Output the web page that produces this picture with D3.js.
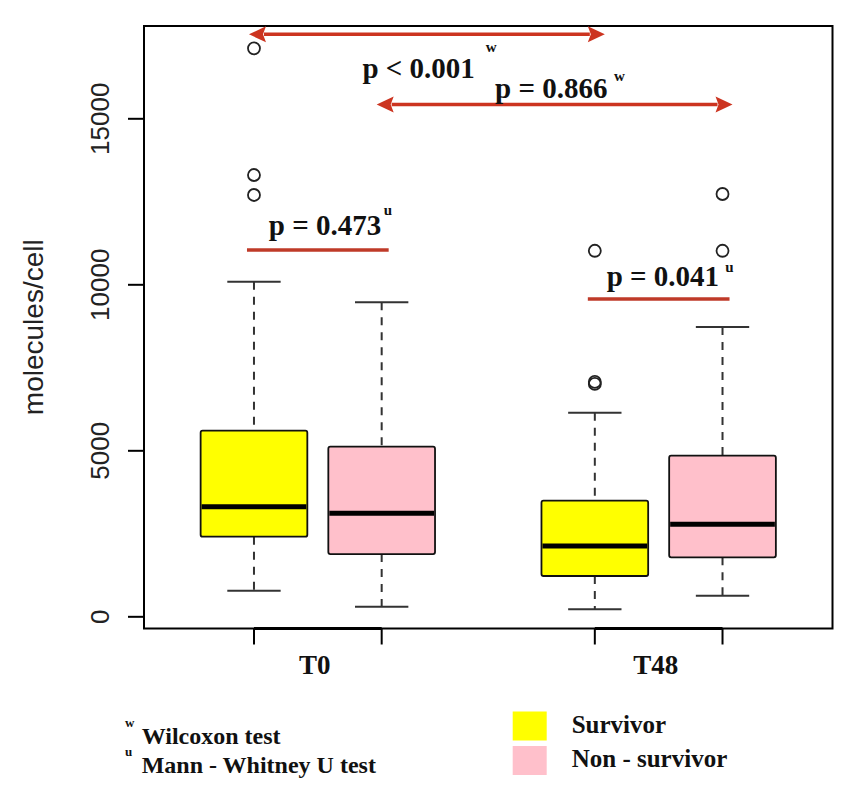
<!DOCTYPE html>
<html>
<head>
<meta charset="utf-8">
<script src="https://cdn.jsdelivr.net/npm/d3@7"></script>
<style>
  html, body { margin: 0; padding: 0; background: #fff; }
  svg { display: block; }
</style>
</head>
<body>
<svg id="chart" width="851" height="791"></svg>
<script>
// ---------------- DATA ----------------
const groups = ["T0", "T48"];
const series = ["Survivor", "Non - survivor"];
const seriesColors = ["#ffff00", "#ffc0cb"];

const boxGroup  = ["T0", "T0", "T48", "T48"];
const boxSeries = ["Survivor", "Non - survivor", "Survivor", "Non - survivor"];
const whiskerLow  = [771, 289, 211, 620];
const q1          = [2398, 1876, 1214, 1777];
const median      = [3301, 3102, 2117, 2771];
const q3          = [5590, 5108, 3482, 4837];
const whiskerHigh = [10078, 9458, 6133, 8714];
const outliers    = [[17108, 13292, 12690], [], [7000, 7060, 11010], [11010, 12720]];

const yTicks = [0, 5000, 10000, 15000];
const yLabel = "molecules/cell";

const testLabels = ["p < 0.001", "p = 0.866", "p = 0.473", "p = 0.041"];
const testMarks  = ["w", "w", "u", "u"];
const testFrom   = [["T0", "Survivor"], ["T0", "Non - survivor"], ["T0", "Survivor"], ["T48", "Survivor"]];
const testTo     = [["T48", "Survivor"], ["T48", "Non - survivor"], ["T0", "Non - survivor"], ["T48", "Non - survivor"]];
const testKind   = ["arrow", "arrow", "line", "line"];
const testLevel  = [17530, 15415, 11033, 9557];

const footnoteMarks = ["w", "u"];
const footnoteTexts = ["Wilcoxon test", "Mann - Whitney U test"];

// ---------------- LAYOUT ----------------
const svg = d3.select("#chart");
const plot = { left: 144, right: 832.5, top: 26, bottom: 628.5 };
const SERIF = "'Liberation Serif', 'Times New Roman', serif";
const SANS = "'Liberation Sans', Arial, Helvetica, sans-serif";
const RED = "#cc3420";

svg.append("rect").attr("width", 851).attr("height", 791).attr("fill", "#fff");

const y = d3.scaleLinear().domain([-367, 17780]).range([plot.bottom, plot.top]);
const xGroup = d3.scalePoint().domain(groups).range([plot.left, plot.right]).padding(0.51);
const xSeries = d3.scalePoint().domain(series).range([-63.85, 63.85]);
const boxWidth = 106.7;
const cx = (g, s) => xGroup(g) + xSeries(s);
const color = d3.scaleOrdinal().domain(series).range(seriesColors);

const boxes = boxGroup.map((g, i) => ({
  g, s: boxSeries[i], lo: whiskerLow[i], q1: q1[i], med: median[i],
  q3: q3[i], hi: whiskerHigh[i], out: outliers[i]
}));

// ---------------- BOXPLOTS ----------------
const bx = svg.append("g");
boxes.forEach(b => {
  const c = cx(b.g, b.s);
  // whiskers (dashed)
  bx.append("line").attr("x1", c).attr("x2", c).attr("y1", y(b.hi)).attr("y2", y(b.q3))
    .attr("stroke", "#333").attr("stroke-width", 2).attr("stroke-dasharray", "8,7");
  bx.append("line").attr("x1", c).attr("x2", c).attr("y1", y(b.q1)).attr("y2", y(b.lo))
    .attr("stroke", "#333").attr("stroke-width", 2).attr("stroke-dasharray", "8,7");
  // staples
  [b.hi, b.lo].forEach(v => {
    bx.append("line").attr("x1", c - boxWidth / 4).attr("x2", c + boxWidth / 4)
      .attr("y1", y(v)).attr("y2", y(v)).attr("stroke", "#333").attr("stroke-width", 2);
  });
  // box
  bx.append("rect").attr("x", c - boxWidth / 2).attr("width", boxWidth)
    .attr("y", y(b.q3)).attr("height", y(b.q1) - y(b.q3))
    .attr("rx", 2).attr("fill", color(b.s)).attr("stroke", "#111").attr("stroke-width", 1.8);
  // median
  bx.append("line").attr("x1", c - boxWidth / 2 + 1).attr("x2", c + boxWidth / 2 - 1)
    .attr("y1", y(b.med)).attr("y2", y(b.med)).attr("stroke", "#000").attr("stroke-width", 5);
  // outliers
  b.out.forEach(v => {
    bx.append("circle").attr("cx", c).attr("cy", y(v)).attr("r", 6)
      .attr("fill", "none").attr("stroke", "#222").attr("stroke-width", 1.8);
  });
});

// ---------------- FRAME & AXES ----------------
svg.append("rect").attr("x", plot.left).attr("y", plot.top)
  .attr("width", plot.right - plot.left).attr("height", plot.bottom - plot.top)
  .attr("fill", "none").attr("stroke", "#000").attr("stroke-width", 2);

const yAxis = svg.append("g").attr("transform", `translate(${plot.left},0)`)
  .call(d3.axisLeft(y).tickValues(yTicks).tickSize(16).tickFormat(d3.format("d")));
yAxis.select(".domain").remove();
yAxis.selectAll(".tick line").attr("stroke", "#000").attr("stroke-width", 2);
yAxis.selectAll(".tick text")
  .attr("x", null).attr("dy", null)
  .attr("transform", "translate(-35,0) rotate(-90)")
  .attr("text-anchor", "middle")
  .attr("font-family", SANS).attr("font-size", 26).attr("fill", "#222");

svg.append("text")
  .attr("transform", `translate(43,${(plot.top + plot.bottom) / 2}) rotate(-90)`)
  .attr("text-anchor", "middle").attr("font-family", SANS).attr("font-size", 28)
  .attr("fill", "#222").text(yLabel);

// x axis: ticks at each box, label under each group
groups.forEach(g => {
  const xs = series.map(s => cx(g, s));
  svg.append("line").attr("x1", xs[0]).attr("x2", xs[xs.length - 1])
    .attr("y1", plot.bottom).attr("y2", plot.bottom).attr("stroke", "#000").attr("stroke-width", 3);
  xs.forEach(xv => {
    svg.append("line").attr("x1", xv).attr("x2", xv).attr("y1", plot.bottom).attr("y2", plot.bottom + 16)
      .attr("stroke", "#000").attr("stroke-width", 2);
  });
  svg.append("text").attr("x", xGroup(g) - 3).attr("y", 674.3).attr("text-anchor", "middle")
    .attr("font-family", SERIF).attr("font-weight", "bold").attr("font-size", 27)
    .attr("fill", "#111").text(g);
});

// ---------------- TEST ANNOTATIONS ----------------
const labelLayout = [
  { dx: -64, dy: 43.4, sx: 123.4, sy: -25.7 },
  { dx: -59, dy: -6.2, sx: 119, sy: -17 },
  { dx: -51, dy: -15, sx: 115, sy: -20 },
  { dx: -54, dy: -13.3, sx: 118.7, sy: -14 }
];
const ann = svg.append("g");
testLabels.forEach((lab, i) => {
  const x1 = cx(testFrom[i][0], testFrom[i][1]);
  const x2 = cx(testTo[i][0], testTo[i][1]);
  const yy = y(testLevel[i]);
  if (testKind[i] === "arrow") {
    const a = x1 - 5, b = x2 + 10, hl = 17, hw = 8;
    ann.append("line").attr("x1", a + hl - 2).attr("x2", b - hl + 2).attr("y1", yy).attr("y2", yy)
      .attr("stroke", RED).attr("stroke-width", 3.5);
    ann.append("path").attr("d", `M${a},${yy} L${a + hl},${yy - hw} L${a + hl - 3},${yy} L${a + hl},${yy + hw} Z`)
      .attr("fill", RED);
    ann.append("path").attr("d", `M${b},${yy} L${b - hl},${yy - hw} L${b - hl + 3},${yy} L${b - hl},${yy + hw} Z`)
      .attr("fill", RED);
  } else {
    ann.append("line").attr("x1", x1 - 7).attr("x2", x2 + 7).attr("y1", yy).attr("y2", yy)
      .attr("stroke", "#bf3a28").attr("stroke-width", 3.5);
  }
  const mid = (x1 + x2) / 2 + 2;
  const L = labelLayout[i];
  ann.append("text").attr("x", mid + L.dx).attr("y", yy + L.dy)
    .attr("font-family", SERIF).attr("font-weight", "bold").attr("font-size", 29)
    .attr("fill", "#111").text(lab);
  ann.append("text").attr("x", mid + L.dx + L.sx).attr("y", yy + L.dy + L.sy)
    .attr("font-family", SERIF).attr("font-weight", "bold").attr("font-size", 15)
    .attr("fill", "#111").text(testMarks[i]);
});

// ---------------- FOOTNOTES ----------------
footnoteTexts.forEach((t, i) => {
  const base = 744.3 + i * 28.4;
  svg.append("text").attr("x", 125).attr("y", base - 17)
    .attr("font-family", SERIF).attr("font-weight", "bold").attr("font-size", 13)
    .attr("fill", "#111").text(footnoteMarks[i]);
  svg.append("text").attr("x", 141.7).attr("y", base)
    .attr("font-family", SERIF).attr("font-weight", "bold").attr("font-size", 24)
    .attr("fill", "#111").text(t);
});

// ---------------- LEGEND ----------------
const leg = svg.append("g").attr("transform", "translate(512.7,711.5)");
series.forEach((s, i) => {
  const g = leg.append("g").attr("transform", `translate(0,${i * 34.5})`);
  g.append("rect").attr("width", 34).attr("height", 29).attr("fill", color(s));
  g.append("text").attr("x", 59).attr("y", 21.2)
    .attr("font-family", SERIF).attr("font-weight", "bold").attr("font-size", 25)
    .attr("fill", "#111").text(s);
});
</script>
</body>
</html>
